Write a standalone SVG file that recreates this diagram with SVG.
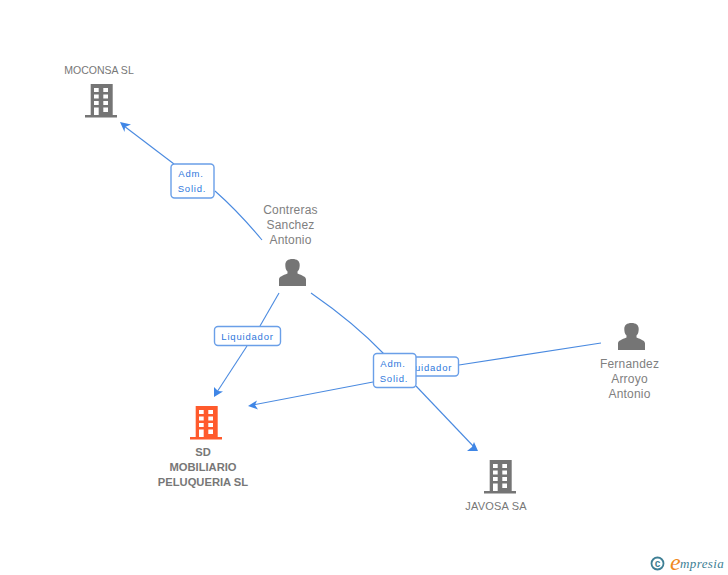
<svg xmlns="http://www.w3.org/2000/svg" xmlns:xlink="http://www.w3.org/1999/xlink" width="728" height="575" viewBox="0 0 728 575">
<style>
text{font-family:"Liberation Sans",Arial,sans-serif}
.n{font-size:12px;fill:#808080;text-anchor:middle;letter-spacing:.2px}
.c{font-size:10.500px;fill:#777;text-anchor:middle}
.b{font-size:11.200px;font-weight:bold;fill:#777;text-anchor:middle}
.l{font-size:9.500px;fill:#2f78dc;letter-spacing:.8px;text-anchor:middle}
.e{fill:none;stroke:#4a8ae0;stroke-width:1.1}
.box{fill:#fff;stroke:#6a9fe8;stroke-width:1.400}
.a{fill:#3f86e6}
</style>
<defs>
<g id="bld">
<path d="M0.700 0H22.700V31H27V33.500H-5V31H0.700ZM4 4V8H8.700V4ZM13.300 4V8H18V4ZM4 10.500V14.500H8.700V10.500ZM13.300 10.500V14.500H18V10.500ZM4 17V21H8.700V17ZM13.300 17V21H18V17ZM4 23.500V31H8.700V23.500ZM13.300 23.500V28H18V23.500Z" fill-rule="evenodd"/>
</g>
<g id="per">
<path d="M0 27V20.500C0 17.500 4 16.500 8.500 14.500V12.500C6.800 11 6.300 8.500 6.300 6C6.300 2 9 0 13.500 0C18 0 20.700 2 20.700 6C20.700 8.500 20.200 11 18.500 12.500V14.500C23 16.500 27 17.500 27 20.500V27Z"/>
</g>
</defs>
<g id="connectors">
<path class="e" d="M262 240C247 222 232 206 215 191"/>
<path class="e" d="M174 164L124 126"/>
<path class="a" d="M120 122L131 124.500L125 127L124.500 132Z"/>
<path class="e" d="M279 293L260 326"/>
<path class="e" d="M247 346L217 392"/>
<path class="a" d="M214 397L214 387L218 391L223 391.500Z"/>
<path class="e" d="M311 293C337 311 362 331 384 354"/>
<path class="e" d="M416 386L475 448"/>
<path class="a" d="M478 451L467 451L472 447L474 442Z"/>
<path class="e" d="M373 382L253 405"/>
<path class="a" d="M248 406L257 400.500L255 405L258 409.500Z"/>
<path class="e" d="M459 365L601 343"/>
</g>
<g id="node-moconsa">
<text class="c" x="99" y="74">MOCONSA SL</text>
<use xlink:href="#bld" href="#bld" x="90" y="84" fill="#757575"/>
</g>
<g id="node-contreras">
<text class="n" x="290.500" y="214">Contreras</text>
<text class="n" x="290.500" y="229">Sanchez</text>
<text class="n" x="290.500" y="244">Antonio</text>
<use xlink:href="#per" href="#per" x="279" y="259" fill="#757575"/>
</g>
<g id="node-sd">
<use xlink:href="#bld" href="#bld" x="195" y="406" fill="#ff5a2c"/>
<text class="b" x="203" y="456">SD</text>
<text class="b" x="203" y="471">MOBILIARIO</text>
<text class="b" x="203" y="486">PELUQUERIA SL</text>
</g>
<g id="node-javosa">
<use xlink:href="#bld" href="#bld" x="489" y="460" fill="#757575"/>
<text class="c" x="496" y="510" style="font-size:11px;letter-spacing:.2px">JAVOSA SA</text>
</g>
<g id="node-fernandez">
<use xlink:href="#per" href="#per" x="618" y="323" fill="#757575"/>
<text class="n" x="629.500" y="368">Fernandez</text>
<text class="n" x="629.500" y="383">Arroyo</text>
<text class="n" x="629.500" y="398">Antonio</text>
</g>
<g id="label-liq1">
<rect class="box" x="214.500" y="326.500" width="66" height="19" rx="3.500"/>
<text class="l" x="247.500" y="340">Liquidador</text>
</g>
<g id="label-liq2">
<rect class="box" x="394" y="357" width="64.500" height="19" rx="3.500"/>
<text class="l" x="426" y="370.500">Liquidador</text>
</g>
<g id="label-adm1">
<rect class="box" x="171" y="164" width="43" height="34" rx="3.500"/>
<text class="l" x="191" y="177">Adm.</text>
<text class="l" x="192" y="192">Solid.</text>
</g>
<g id="label-adm2">
<rect class="box" x="373.500" y="353.500" width="42.500" height="34" rx="3.500"/>
<text class="l" x="393" y="367">Adm.</text>
<text class="l" x="394" y="382">Solid.</text>
</g>
<g id="logo">
<circle cx="657.500" cy="563.500" r="6" fill="none" stroke="#3e7f95" stroke-width="1.800"/>
<text x="657.500" y="567" font-size="10" font-weight="bold" fill="#3e7f95" text-anchor="middle">c</text>
<text x="670" y="570" font-size="24" font-style="italic" fill="#f08a1d" style="font-family:'Liberation Serif',serif">e</text>
<text x="680" y="568" font-size="13" font-style="italic" fill="#3e7f95" style="font-family:'Liberation Serif',serif" letter-spacing=".4">mpresia</text>
</g>
</svg>
